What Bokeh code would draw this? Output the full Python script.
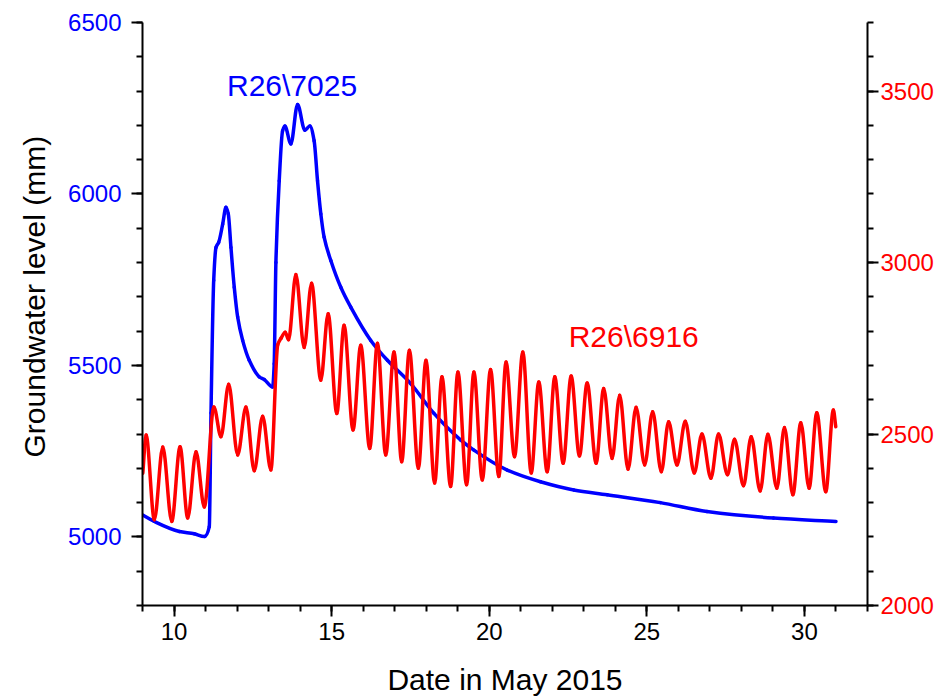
import numpy as np
from bokeh.plotting import figure
from bokeh.models import Range1d, LinearAxis, SingleIntervalTicker, ColumnDataSource, Title
from bokeh.core.properties import value
from bokeh.embed import file_html
from bokeh.resources import INLINE

# ---------------- data ----------------
# R26\7025 (left axis, mm)
blue_day = [9.01, 9.377, 10.169, 10.644, 10.961, 11.119, 11.173, 11.259, 11.331, 11.417,
            11.544, 11.648, 11.721, 11.806, 11.911, 12.019, 12.177, 12.386, 12.703, 12.861,
            13.127, 13.178, 13.232, 13.337, 13.444, 13.517, 13.707, 13.919, 14.150, 14.309,
            14.445, 14.553, 14.657, 14.762, 14.974, 15.291, 15.607, 16.241, 16.770, 17.508,
            18.246, 19.089, 19.513, 20.571, 21.626, 22.681, 23.739, 25.427, 26.906, 29.016,
            31.0]
blue_val = [5064, 5045, 5016, 5009, 5001, 5030, 5361, 5748, 5844, 5859,
            5912, 5961, 5942, 5844, 5728, 5641, 5573, 5515, 5467, 5459,
            5437, 5505, 5800, 6038, 6184, 6198, 6146, 6261, 6186, 6198,
            6155, 6038, 5942, 5874, 5806, 5728, 5670, 5573, 5515, 5447,
            5360, 5283, 5253, 5195, 5161, 5137, 5123, 5100, 5074, 5055,
            5045]

# R26\6916 (right axis, mm) - turning points of the oscillation
red_day = [9.01, 9.114, 9.377, 9.643, 9.928, 10.191, 10.435, 10.698, 10.961, 11.265,
           11.490, 11.734, 12.019, 12.282, 12.545, 12.811, 13.073, 13.29, 13.40, 13.527,
           13.634, 13.866, 14.128, 14.363, 14.657, 14.889, 15.164, 15.395, 15.680, 15.924,
           16.209, 16.453, 16.716, 16.979, 17.223, 17.467, 17.752, 17.993, 18.268, 18.500,
           18.775, 19.006, 19.282, 19.513, 19.779, 20.042, 20.305, 20.533, 20.802, 21.065,
           21.332, 21.572, 21.838, 22.079, 22.345, 22.599, 22.862, 23.106, 23.391, 23.631,
           23.897, 24.138, 24.404, 24.658, 24.930, 25.184, 25.459, 25.690, 25.957, 26.219,
           26.504, 26.748, 27.033, 27.274, 27.559, 27.781, 28.066, 28.310, 28.595, 28.839,
           29.124, 29.365, 29.631, 29.884, 30.147, 30.391, 30.676, 30.917, 30.993]
red_val = [2386, 2497, 2250, 2462, 2245, 2463, 2255, 2448, 2287, 2579,
           2492, 2645, 2439, 2579, 2393, 2552, 2395, 2760, 2780, 2797,
           2775, 2965, 2752, 2940, 2657, 2851, 2560, 2817, 2512, 2759,
           2458, 2765, 2439, 2739, 2419, 2744, 2400, 2715, 2357, 2667,
           2347, 2681, 2352, 2681, 2366, 2688, 2376, 2710, 2434, 2739,
           2386, 2652, 2390, 2667, 2415, 2669, 2436, 2649, 2415, 2633,
           2429, 2613, 2397, 2578, 2410, 2565, 2390, 2536, 2410, 2537,
           2386, 2500, 2371, 2500, 2381, 2485, 2349, 2492, 2334, 2499,
           2342, 2519, 2323, 2533, 2342, 2562, 2332, 2570, 2521]

x_start, x_end = 9, 32
left_start, left_end = 4800, 6500
right_start, right_end = 2000, 3700

labels = ["R26\\7025", "R26\\6916"]
label_day = [11.68, 22.52]
label_val = [6317, 2785]   # first on left axis, second on right axis

x_title = "Date in May 2015"
y_title = "Groundwater level (mm)"

FONT = "Liberation Sans"
BLUE = "#0000FF"
RED = "#FF0000"


def smooth_segments(xs, ys):
    """Monotone cubic (Fritsch-Carlson) tangents -> cubic Bezier control points."""
    xs = np.asarray(xs, float)
    ys = np.asarray(ys, float)
    h = np.diff(xs)
    d = np.diff(ys) / h
    n = len(xs)
    m = np.zeros(n)
    m[0] = d[0]
    m[-1] = d[-1]
    for k in range(1, n - 1):
        if d[k - 1] * d[k] > 0:
            w1 = 2 * h[k] + h[k - 1]
            w2 = h[k] + 2 * h[k - 1]
            m[k] = (w1 + w2) / (w1 / d[k - 1] + w2 / d[k])
    return ColumnDataSource(dict(
        x0=xs[:-1], y0=ys[:-1], x1=xs[1:], y1=ys[1:],
        cx0=xs[:-1] + h / 3, cy0=ys[:-1] + m[:-1] * h / 3,
        cx1=xs[1:] - h / 3, cy1=ys[1:] - m[1:] * h / 3,
    ))


p = figure(width=936, height=698,
           x_range=Range1d(x_start, x_end), y_range=Range1d(left_start, left_end),
           output_backend="svg", toolbar_location=None,
           min_border_left=142, min_border_right=69, min_border_top=22, min_border_bottom=92)
p.extra_y_ranges = {"right": Range1d(right_start, right_end)}

p.outline_line_color = None
p.xgrid.visible = False
p.ygrid.visible = False
p.background_fill_color = "white"
p.border_fill_color = "white"


def style_axis(ax, color):
    ax.axis_line_width = 2
    ax.axis_line_color = "black"
    ax.major_tick_line_width = 2
    ax.minor_tick_line_width = 2
    ax.major_tick_line_color = "black"
    ax.minor_tick_line_color = "black"
    ax.major_tick_in = 0
    ax.major_tick_out = 11
    ax.minor_tick_in = 0
    ax.minor_tick_out = 6
    ax.major_label_text_font = FONT
    ax.major_label_text_font_size = "24px"
    ax.major_label_text_color = color
    ax.axis_label_text_font = FONT
    ax.axis_label_text_font_size = "30px"
    ax.axis_label_text_font_style = "normal"
    ax.axis_label_text_color = "black"


xa = p.xaxis[0]
xa.ticker = SingleIntervalTicker(interval=5, num_minor_ticks=5)
style_axis(xa, "black")
xa.axis_label = x_title
xa.major_label_standoff = 6
xa.axis_label_standoff = 20

ya = p.yaxis[0]
ya.ticker = SingleIntervalTicker(interval=500, num_minor_ticks=5)
style_axis(ya, BLUE)
ya.major_label_standoff = 10

ra = LinearAxis(y_range_name="right", ticker=SingleIntervalTicker(interval=500, num_minor_ticks=5))
style_axis(ra, RED)
ra.major_label_standoff = 2
p.add_layout(ra, "right")

p.add_layout(Title(text=y_title, align="left", offset=148, standoff=29,
                   text_font=FONT, text_font_size="30px", text_font_style="normal",
                   text_color="black"), "left")

bsrc = smooth_segments(blue_day, blue_val)
p.bezier(x0="x0", y0="y0", x1="x1", y1="y1", cx0="cx0", cy0="cy0", cx1="cx1", cy1="cy1",
         source=bsrc, line_color=BLUE, line_width=3.5, line_cap="round")

rsrc = smooth_segments(red_day, red_val)
p.bezier(x0="x0", y0="y0", x1="x1", y1="y1", cx0="cx0", cy0="cy0", cx1="cx1", cy1="cy1",
         source=rsrc, line_color=RED, line_width=3.5, line_cap="round", y_range_name="right")

p.text(x=[label_day[0]], y=[label_val[0]], text=[labels[0]], text_color=BLUE,
       text_font=value(FONT), text_font_size="30px", text_baseline="alphabetic", text_align="left")
p.text(x=[label_day[1]], y=[label_val[1]], text=[labels[1]], text_color=RED,
       text_font=value(FONT), text_font_size="30px", text_baseline="alphabetic", text_align="left",
       y_range_name="right")

open("out.html", "w").write(file_html(p, INLINE))
